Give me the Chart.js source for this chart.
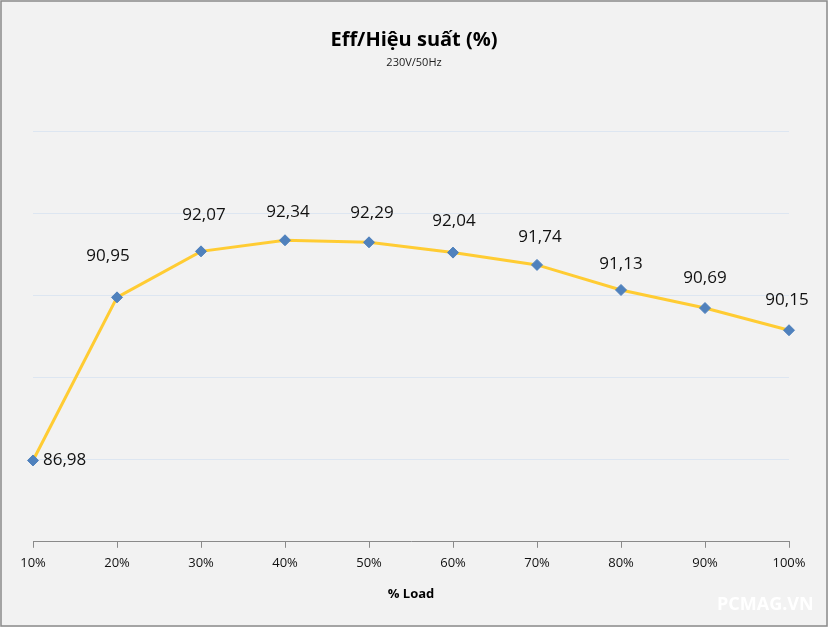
<!DOCTYPE html>
<html>
<head>
<meta charset="utf-8">
<script src="https://cdn.jsdelivr.net/npm/chart.js@4"></script>
<style>
  html, body { margin: 0; padding: 0; background: #f2f2f2; }
  canvas { display: block; }
</style>
</head>
<body>
<canvas id="effChart" width="828" height="627"></canvas>
<script>
// ── Data ───────────────────────────────────────────────────────────────────────
const loadLabels = ['10%', '20%', '30%', '40%', '50%', '60%', '70%', '80%', '90%', '100%'];
const efficiency = [86.98, 90.95, 92.07, 92.34, 92.29, 92.04, 91.74, 91.13, 90.69, 90.15];
const yTicks = [85, 87, 89, 91, 93, 95];

const FONT = '"Open Sans", "Noto Sans", sans-serif';

// label placement (dx, dy from point, px) – mimics the hand-moved excel labels
const labelShift = [
  [36, 0, 'left'], [-9, -41], [3, -36], [3, -28], [3, -29],
  [1, -31], [3, -28], [0, -26], [0, -30], [-2, -30]
];

// ── Frame, titles, labels, watermark ──────────────────────────────────────────
const decorPlugin = {
  id: 'decor',
  beforeDraw(chart) {
    const { ctx, width, height } = chart;
    ctx.save();
    ctx.fillStyle = '#f2f2f2';
    ctx.fillRect(0, 0, width, height);
    ctx.restore();
  },
  afterDraw(chart) {
    const { ctx, width, height } = chart;
    ctx.save();
    ctx.textAlign = 'center';
    ctx.textBaseline = 'middle';
    ctx.fillStyle = '#000';
    ctx.font = `bold 20px ${FONT}`;
    ctx.fillText('Eff/Hiệu suất (%)', width / 2, 40);
    ctx.font = `11px ${FONT}`;
    ctx.fillStyle = '#222';
    ctx.fillText('230V/50Hz', width / 2, 63);

    // data labels
    const meta = chart.getDatasetMeta(0);
    ctx.font = `17px ${FONT}`;
    ctx.fillStyle = '#111';
    meta.data.forEach((pt, i) => {
      const s = labelShift[i] || [0, -30];
      ctx.textAlign = s[2] || 'center';
      ctx.fillText(efficiency[i].toFixed(2).replace('.', ','), pt.x + s[0] - (s[2] ? 26 : 0), pt.y + s[1]);
    });

    // watermark
    ctx.textAlign = 'left';
    ctx.font = `bold 18px ${FONT}`;
    ctx.fillStyle = '#ffffff';
    ctx.fillText('PCMAG.VN', 717, 605);

    // frame
    ctx.strokeStyle = '#8a8a8a';
    ctx.lineWidth = 1.5;
    ctx.strokeRect(1, 1, width - 2, height - 2);
    ctx.restore();
  }
};

new Chart(document.getElementById('effChart'), {
  type: 'line',
  data: {
    labels: loadLabels,
    datasets: [{
      label: 'Eff',
      data: efficiency,
      borderColor: '#ffcc33',
      borderWidth: 3,
      pointStyle: 'rectRot',
      pointRadius: 5.5,
      pointBackgroundColor: '#4f81bd',
      pointBorderColor: '#4f81bd',
      pointBorderWidth: 1,
      tension: 0,
      fill: false
    }]
  },
  options: {
    responsive: false,
    animation: false,
    layout: { padding: { left: 33, right: 39, top: 131, bottom: 25 } },
    plugins: {
      legend: { display: false },
      tooltip: { enabled: false }
    },
    scales: {
      x: {
        offset: false,
        grid: { drawOnChartArea: false, drawTicks: true, tickLength: 6, color: '#8a8a8a' },
        border: { color: '#8a8a8a', width: 1 },
        ticks: { color: '#111', font: { family: FONT, size: 13 }, padding: 8, maxRotation: 0 },
        title: {
          display: true, text: '% Load', color: '#000',
          font: { family: FONT, size: 13, weight: 'bold' },
          padding: { top: 7, bottom: 0 }
        }
      },
      y: {
        min: yTicks[0],
        max: yTicks[yTicks.length - 1],
        afterBuildTicks: (axis) => { axis.ticks = yTicks.map(v => ({ value: v })); },
        afterFit: (axis) => { axis.width = 0; },
        ticks: { display: false },
        grid: { color: '#dde6f1', lineWidth: 1, drawTicks: false },
        border: { display: false }
      }
    }
  },
  plugins: [decorPlugin]
});
</script>
</body>
</html>
